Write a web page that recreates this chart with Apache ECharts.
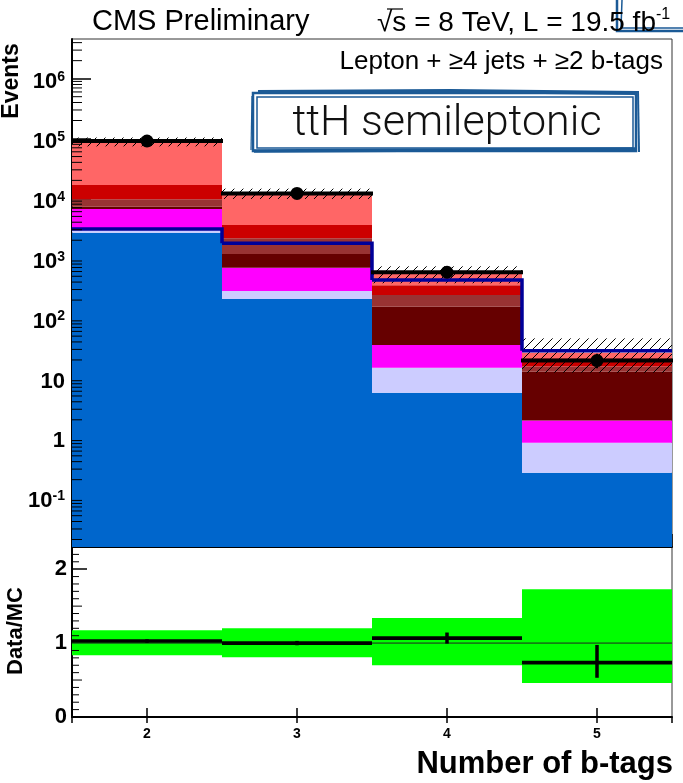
<!DOCTYPE html>
<html>
<head>
<meta charset="utf-8">
<script src="https://cdn.jsdelivr.net/npm/echarts@6/dist/echarts.min.js"></script>
<style>
  html, body { margin: 0; padding: 0; background: #fff; }
  #chart { width: 683px; height: 783px; }
</style>
</head>
<body>
<div id="chart"></div>
<script>
// b-tag multiplicity bins
const bTagBins = [2, 3, 4, 5];
const xTickLabels = ['2', '3', '4', '5'];

// background yields per bin, stacked bottom -> top
const bkgBlue     = [2670, 208, 5.68, 0.262];
const bkgLavender = [370, 76, 9.2, 0.568];
const bkgMagenta  = [3610, 412, 20.7, 1.11];
const bkgMaroon   = [630, 484, 119.4, 10.76];
const bkgBrown    = [2380, 980, 89, 2.8];
const bkgRed      = [7040, 1440, 109, 5.8];
const bkgLightRed = [71800, 8500, 193, 5.2];

// ttH signal, drawn as an open step line
const signalYield = [3080, 1780, 433, 28.6];

// observed events and their errors
const dataYield   = [91000, 12100, 583, 19.5];
const dataErrUp   = [302, 110, 30, 5.8];
const dataErrDown = [302, 110, 30, 4.9];

// relative uncertainty on the total background prediction
const mcUncUp   = [0.175, 0.202, 0.341, 0.730];
const mcUncDown = [0.164, 0.191, 0.300, 0.539];

// axis tick labels
const logTickValues = [0.1, 1, 10, 100, 1e3, 1e4, 1e5, 1e6];
const logTickLabels = ['{b|10}{s|-1}', '{b|1}', '{b|10}', '{b|10}{s|2}', '{b|10}{s|3}', '{b|10}{s|4}', '{b|10}{s|5}', '{b|10}{s|6}'];
const ratioTickValues = [0, 1, 2];
const ratioTickLabels = ['0', '1', '2'];

const FONT = '"Liberation Sans", Arial, Helvetica, sans-serif';
const Y_MIN = 0.015, Y_MAX = 4.6e6;
const R_MIN = 0, R_MAX = 2.3;

const layers = [
  { name: 'blue',     values: bkgBlue,     color: '#0066cc' },
  { name: 'lavender', values: bkgLavender, color: '#ccccff' },
  { name: 'magenta',  values: bkgMagenta,  color: '#ff00ff' },
  { name: 'maroon',   values: bkgMaroon,   color: '#660000' },
  { name: 'brown',    values: bkgBrown,    color: '#993333' },
  { name: 'red',      values: bkgRed,      color: '#cc0000' },
  { name: 'lightred', values: bkgLightRed, color: '#ff6666' }
];

// cumulative stack edges
const cumulative = bTagBins.map(() => 0);
const stackSeries = layers.map((layer) => {
  const items = bTagBins.map((x, i) => {
    const lo = cumulative[i];
    const hi = lo + layer.values[i];
    cumulative[i] = hi;
    return [x, lo, hi];
  });
  return {
    type: 'custom', name: layer.name, xAxisIndex: 0, yAxisIndex: 0, z: 2,
    data: items, silent: true,
    renderItem: (params, api) => {
      const x = api.value(0), lo = api.value(1), hi = api.value(2);
      const cs = params.coordSys;
      const pL = api.coord([x - 0.5, hi]);
      const pR = api.coord([x + 0.5, hi]);
      const yLo = lo > 0 ? api.coord([x, lo])[1] : cs.y + cs.height;
      return {
        type: 'rect',
        shape: { x: pL[0], y: pR[1], width: pR[0] - pL[0], height: yLo - pR[1] },
        style: { fill: layer.color }
      };
    }
  };
});
const mcTotal = cumulative.slice();
const ratio = dataYield.map((d, i) => d / mcTotal[i]);

// diagonal hatching inside a pixel rectangle
function hatchLines(x0, x1, yT, yB, step) {
  const out = [];
  let k = Math.ceil((x0 + yT) / step) * step;
  for (; k <= x1 + yB; k += step) {
    const xa = Math.max(x0, k - yB), xb = Math.min(x1, k - yT);
    if (xb > xa) {
      out.push({ type: 'line', shape: { x1: xa, y1: k - xa, x2: xb, y2: k - xb },
                 style: { stroke: '#000', lineWidth: 1 } });
    }
  }
  return out;
}

const hatchSeries = {
  type: 'custom', name: 'mcunc', xAxisIndex: 0, yAxisIndex: 0, z: 3, silent: true,
  data: bTagBins.map((x, i) => [x, mcTotal[i] * (1 - mcUncDown[i]), mcTotal[i] * (1 + mcUncUp[i])]),
  renderItem: (params, api) => {
    const x = api.value(0);
    const pTL = api.coord([x - 0.5, api.value(2)]);
    const pBR = api.coord([x + 0.5, api.value(1)]);
    return { type: 'group', children: hatchLines(pTL[0], pBR[0], pTL[1], pBR[1], 9) };
  }
};

const signalSeries = {
  type: 'custom', name: 'ttH', xAxisIndex: 0, yAxisIndex: 0, z: 4, silent: true,
  data: bTagBins.map((x, i) => [x, signalYield[i], i + 1 < signalYield.length ? signalYield[i + 1] : signalYield[i]]),
  renderItem: (params, api) => {
    const x = api.value(0), y = api.value(1), yNext = api.value(2);
    const a = api.coord([x - 0.5, y]);
    const b = api.coord([x + 0.5, y]);
    const c = api.coord([x + 0.5, yNext]);
    return {
      type: 'polyline',
      shape: { points: [a, b, c] },
      style: { stroke: '#000099', lineWidth: 3.5, fill: null, lineJoin: 'miter' }
    };
  }
};

const dataSeries = {
  type: 'custom', name: 'data', xAxisIndex: 0, yAxisIndex: 0, z: 5, silent: true,
  data: bTagBins.map((x, i) => [x, dataYield[i], dataYield[i] - dataErrDown[i], dataYield[i] + dataErrUp[i]]),
  renderItem: (params, api) => {
    const x = api.value(0);
    const p = api.coord([x, api.value(1)]);
    const pL = api.coord([x - 0.5, api.value(1)]);
    const pR = api.coord([x + 0.5, api.value(1)]);
    const pLo = api.coord([x, api.value(2)]);
    const pHi = api.coord([x, api.value(3)]);
    return {
      type: 'group',
      children: [
        { type: 'line', shape: { x1: pL[0] - 1, y1: p[1], x2: pR[0] + 1, y2: p[1] }, style: { stroke: '#000', lineWidth: 4 } },
        { type: 'line', shape: { x1: p[0], y1: pLo[1], x2: p[0], y2: pHi[1] }, style: { stroke: '#000', lineWidth: 2 } },
        { type: 'circle', shape: { cx: p[0], cy: p[1], r: 6.5 }, style: { fill: '#000' } }
      ]
    };
  }
};

// ratio panel
const bandSeries = {
  type: 'custom', name: 'band', xAxisIndex: 1, yAxisIndex: 1, z: 2, silent: true,
  data: bTagBins.map((x, i) => [x, 1 - mcUncDown[i], 1 + mcUncUp[i]]),
  renderItem: (params, api) => {
    const x = api.value(0);
    const pTL = api.coord([x - 0.5, api.value(2)]);
    const pBR = api.coord([x + 0.5, api.value(1)]);
    return { type: 'rect', shape: { x: pTL[0], y: pTL[1], width: pBR[0] - pTL[0], height: pBR[1] - pTL[1] },
             style: { fill: '#00ff00' } };
  }
};

const unitySeries = {
  type: 'custom', name: 'unity', xAxisIndex: 1, yAxisIndex: 1, z: 3, silent: true,
  data: [[bTagBins[0], 1]],
  renderItem: (params, api) => {
    const cs = params.coordSys;
    const y = api.coord([api.value(0), api.value(1)])[1];
    return { type: 'line', shape: { x1: cs.x, y1: y, x2: cs.x + cs.width, y2: y }, style: { stroke: '#222', lineWidth: 1 } };
  }
};

const ratioSeries = {
  type: 'custom', name: 'ratio', xAxisIndex: 1, yAxisIndex: 1, z: 4, silent: true,
  data: bTagBins.map((x, i) => [x, ratio[i], (dataYield[i] - dataErrDown[i]) / mcTotal[i], (dataYield[i] + dataErrUp[i]) / mcTotal[i]]),
  renderItem: (params, api) => {
    const x = api.value(0);
    const p = api.coord([x, api.value(1)]);
    const pL = api.coord([x - 0.5, api.value(1)]);
    const pR = api.coord([x + 0.5, api.value(1)]);
    const pLo = api.coord([x, api.value(2)]);
    const pHi = api.coord([x, api.value(3)]);
    return {
      type: 'group',
      children: [
        { type: 'line', shape: { x1: pL[0], y1: p[1], x2: pR[0], y2: p[1] }, style: { stroke: '#000', lineWidth: 3.7 } },
        { type: 'line', shape: { x1: p[0], y1: pLo[1] + 1.5, x2: p[0], y2: pHi[1] - 1.5 }, style: { stroke: '#000', lineWidth: 3.5 } }
      ]
    };
  }
};

// minor ticks drawn on the left edge of each panel
const logMinor = [];
for (let e = -2; e <= 6; e++) {
  for (let m = 2; m <= 9; m++) {
    const v = m * Math.pow(10, e);
    if (v > Y_MIN && v < Y_MAX) logMinor.push([1.5, v]);
  }
}
const ratioMinor = [];
for (let k = 1; k <= 22; k++) {
  if (k % 10 !== 0) ratioMinor.push([1.5, k / 10, k % 5 === 0 ? 10 : 7]);
}
function minorTickSeries(xi, yi, data, defLen) {
  return {
    type: 'custom', xAxisIndex: xi, yAxisIndex: yi, z: 6, silent: true, data: data,
    renderItem: (params, api) => {
      const cs = params.coordSys;
      const y = api.coord([api.value(0), api.value(1)])[1];
      const len = data[params.dataIndex][2] || defLen;
      return { type: 'line', shape: { x1: cs.x, y1: y, x2: cs.x + len, y2: y }, style: { stroke: '#000', lineWidth: 1 } };
    }
  };
}

function xLabel(v) {
  const i = bTagBins.indexOf(v);
  return i >= 0 ? xTickLabels[i] : '';
}
function logLabel(v) {
  for (let i = 0; i < logTickValues.length; i++) {
    if (Math.abs(Math.log10(v) - Math.log10(logTickValues[i])) < 1e-6) return logTickLabels[i];
  }
  return '';
}
function ratioLabel(v) {
  const i = ratioTickValues.indexOf(v);
  return i >= 0 ? ratioTickLabels[i] : '';
}

const chart = echarts.init(document.getElementById('chart'), null, { renderer: 'canvas' });

const option = {
  animation: false,
  backgroundColor: '#fff',
  grid: [
    { left: 72, top: 39, width: 600, height: 508, show: true, borderColor: '#333', borderWidth: 1, backgroundColor: 'transparent' },
    { left: 72, top: 547, width: 600, height: 170, show: true, borderColor: '#333', borderWidth: 1, backgroundColor: 'transparent' }
  ],
  xAxis: [
    { type: 'value', gridIndex: 0, min: 1.5, max: 5.5, splitNumber: 4,
      axisLine: { show: true, onZero: false, lineStyle: { color: '#000', width: 2 } },
      axisTick: { show: true, inside: true, length: 13, lineStyle: { color: '#000', width: 1.5 } },
      axisLabel: { show: false }, splitLine: { show: false } },
    { type: 'value', gridIndex: 1, min: 1.5, max: 5.5, splitNumber: 4,
      axisLine: { show: true, onZero: false, lineStyle: { color: '#000', width: 2 } },
      axisTick: { show: true, inside: true, length: 9, lineStyle: { color: '#000', width: 1.5 } },
      axisLabel: { show: true, margin: 10, formatter: xLabel, showMinLabel: false, showMaxLabel: false,
                   fontFamily: FONT, fontWeight: 'bold', fontSize: 14, color: '#000' },
      splitLine: { show: false } },
    { type: 'value', gridIndex: 1, position: 'top', min: 1.5, max: 5.5, splitNumber: 4,
      axisLine: { show: false },
      axisTick: { show: true, inside: true, length: 6, lineStyle: { color: '#000', width: 1.5 } },
      axisLabel: { show: false }, splitLine: { show: false } }
  ],
  yAxis: [
    { type: 'log', gridIndex: 0, logBase: 10, min: Y_MIN, max: Y_MAX,
      axisLine: { show: true, onZero: false, lineStyle: { color: '#000', width: 2 } },
      axisTick: { show: true, inside: true, length: 19, lineStyle: { color: '#000', width: 1.5 } },
      axisLabel: { show: true, margin: 7, formatter: logLabel, showMinLabel: false, showMaxLabel: false,
        padding: [7, 0, 0, 0],
        rich: {
          b: { fontFamily: FONT, fontWeight: 'bold', fontSize: 22, color: '#000', lineHeight: 24 },
          s: { fontFamily: FONT, fontWeight: 'bold', fontSize: 14, color: '#000', lineHeight: 14, verticalAlign: 'top' }
        } },
      splitLine: { show: false } },
    { type: 'value', gridIndex: 1, min: R_MIN, max: R_MAX, interval: 1,
      axisLine: { show: true, onZero: false, lineStyle: { color: '#000', width: 2 } },
      axisTick: { show: true, inside: true, length: 15, lineStyle: { color: '#000', width: 1.5 } },
      axisLabel: { show: true, margin: 5, formatter: ratioLabel, showMaxLabel: false,
                   fontFamily: FONT, fontWeight: 'bold', fontSize: 22, color: '#000' },
      splitLine: { show: false } }
  ],
  series: [
    ...stackSeries,
    hatchSeries,
    signalSeries,
    dataSeries,
    bandSeries,
    unitySeries,
    ratioSeries,
    minorTickSeries(0, 0, logMinor, 10),
    minorTickSeries(1, 1, ratioMinor, 7)
  ],
  graphic: [
    { type: 'text', left: 92, top: 7, z: 10,
      style: { text: 'CMS Preliminary', font: '29px ' + FONT, fill: '#000' } },
    { type: 'text', left: 377, top: 7, z: 10,
      style: { text: '{n|√s = 8 TeV, L = 19.5 fb}{u|-1}', fill: '#000',
        rich: { n: { fontFamily: FONT, fontSize: 28, lineHeight: 32 },
                u: { fontFamily: FONT, fontSize: 16, lineHeight: 16, verticalAlign: 'top' } } } },
    { type: 'line', z: 10, shape: { x1: 387, y1: 9, x2: 403, y2: 9 }, style: { stroke: '#000', lineWidth: 1.2 } },
    { type: 'text', right: 20, top: 49, z: 10,
      style: { text: 'Lepton + ≥4 jets + ≥2 b-tags', font: '26px ' + FONT, fill: '#000' } },
    { type: 'text', z: 10, x: 12, y: 81, rotation: Math.PI / 2,
      style: { text: 'Events', font: 'bold 23px ' + FONT, fill: '#000', align: 'center', verticalAlign: 'middle' } },
    { type: 'text', z: 10, x: 16, y: 631, rotation: Math.PI / 2,
      style: { text: 'Data/MC', font: 'bold 22px ' + FONT, fill: '#000', align: 'center', verticalAlign: 'middle' } },
    { type: 'text', z: 10, x: 673, y: 764,
      style: { text: 'Number of b-tags', font: 'bold 31px ' + FONT, fill: '#000', align: 'right', verticalAlign: 'middle' } },
    // ttH logo: sketched frame and title
    { type: 'group', z: 11, children: [
      { type: 'rect', shape: { x: 253, y: 93, width: 383, height: 58 }, style: { fill: 'rgba(255,255,255,0.85)', stroke: '#1b5a96', lineWidth: 2.5 } },
      { type: 'rect', shape: { x: 257, y: 97, width: 376, height: 51 }, style: { fill: null, stroke: '#1b5a96', lineWidth: 1.5 } },
      { type: 'polyline', shape: { points: [[258, 92], [450, 91], [637, 93]] }, style: { stroke: '#1b5a96', lineWidth: 4, fill: null } },
      { type: 'polyline', shape: { points: [[254, 151], [450, 150], [636, 149]] }, style: { stroke: '#1b5a96', lineWidth: 3.5, fill: null } },
      { type: 'polyline', shape: { points: [[252, 96], [251, 150]] }, style: { stroke: '#1b5a96', lineWidth: 1.2, fill: null } },
      { type: 'polyline', shape: { points: [[638, 91], [639, 152]] }, style: { stroke: '#1b5a96', lineWidth: 2, fill: null } },
      { type: 'text', x: 447, y: 124,
        style: { text: 'ttH semileptonic', font: '300 43px Roboto, ' + FONT, fill: '#111', align: 'center', verticalAlign: 'middle' } }
    ] },
    // sketched corner next to the luminosity label
    { type: 'group', z: 11, children: [
      { type: 'polyline', shape: { points: [[617, 0], [617, 31], [683, 31]] }, style: { stroke: '#1b5a96', lineWidth: 2.5, fill: null } },
      { type: 'polyline', shape: { points: [[622, 0], [621, 28], [683, 28]] }, style: { stroke: '#1b5a96', lineWidth: 1.5, fill: null } }
    ] }
  ]
};

chart.setOption(option);
</script>
</body>
</html>
